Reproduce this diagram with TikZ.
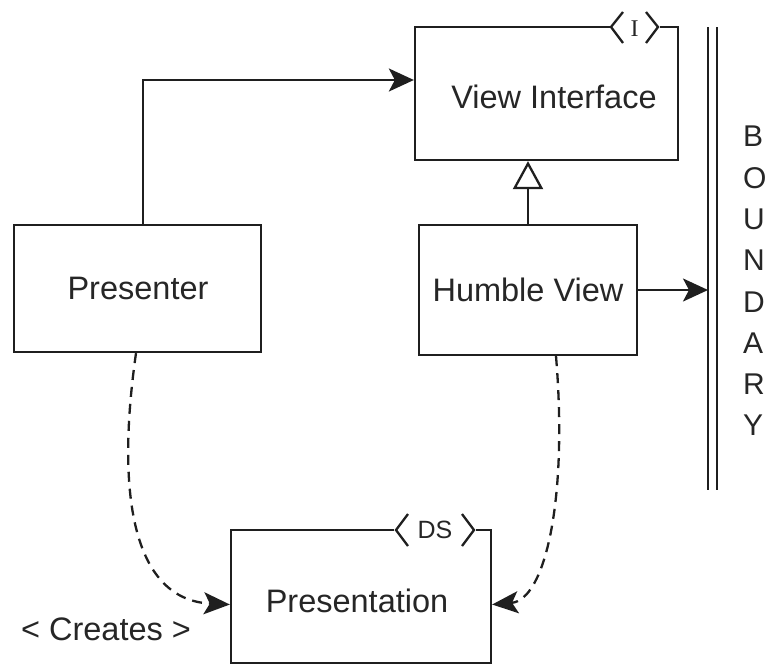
\documentclass[tikz,border=0pt]{standalone}
\usepackage{fontspec}
\setmainfont{Liberation Sans}
\newfontfamily\serifI{Liberation Serif}
\usetikzlibrary{arrows.meta}
\begin{document}
\begin{tikzpicture}[x=1pt,y=-1pt,
  box/.style={draw=black!88,line width=2.3pt,inner sep=0pt,minimum width=#1},
  lbl/.style={inner sep=0pt,font=\fontsize{32.5}{38}\selectfont,text=black!85},
  arr/.style={line width=2.3pt,draw=black!88,-{Stealth[length=25pt,width=23pt,inset=6pt]}},
  gen/.style={line width=2.3pt,draw=black!88,-{Triangle[open,length=28pt,width=30pt,fill=white]}},
  dsh/.style={line width=2.3pt,draw=black!88,dash pattern=on 10pt off 7pt,-{Stealth[length=26pt,width=22pt,inset=6pt]}},
  chev/.style={line width=2.3pt,draw=black!88,line join=miter}]
\useasboundingbox (0,0) rectangle (767,665);
% boxes
\node[box=263pt,minimum height=133pt] (vi) at (546.5,93.5) {};
\node[box=247pt,minimum height=127pt] (pr) at (137.5,288.5) {};
\node[box=218pt,minimum height=130pt] (hv) at (528,290) {};
\node[box=260pt,minimum height=133pt] (pn) at (361,596.5) {};
% labels
\node[lbl] (vit) at (554,97) {View Interface};
\node[lbl] (prt) at (138,288) {Presenter};
\node[lbl] (hvt) at (528,290) {Humble View};
\node[lbl] (pnt) at (357,601) {Presentation};
\node[lbl] (cr) at (106,629) {< Creates >};
% tags
\fill[white] (610,20) rectangle (660,34);
\draw[chev] (623,12) -- (611,27) -- (623,43);
\draw[chev] (646,12) -- (658,27) -- (646,43);
\node[inner sep=0pt,font=\serifI\fontsize{24}{26}\selectfont,text=black!85] (it) at (634.5,29) {I};
\fill[white] (394,523) rectangle (476,537);
\draw[chev] (408,514) -- (396,530) -- (408,546);
\draw[chev] (462,514) -- (474,530) -- (462,546);
\node[inner sep=0pt,font=\fontsize{25}{28}\selectfont,text=black!85] (ds) at (435,530) {DS};
% boundary
\coordinate (b1t) at (708,27); \coordinate (b1b) at (708,490);
\coordinate (b2t) at (717,27); \coordinate (b2b) at (717,490);
\draw[line width=2.3pt,draw=black!88] (b1t) -- (b1b);
\draw[line width=2.3pt,draw=black!88] (b2t) -- (b2b);
\node[lbl,anchor=north west,align=left,font=\fontsize{30}{41.3}\selectfont] (bd) at (743,126) {B\\O\\U\\N\\D\\A\\R\\Y};
% connectors
\draw[arr] ([xshift=5.5pt]pr.north) |- ([yshift=13.5pt]vi.west);
\draw[gen] (hv.north) -- (hv.north |- vi.south);
\draw[arr] (hv.east) -- (hv.east -| b1t);
\draw[dsh] ([xshift=-1.5pt]pr.south) .. controls (115,500) and (135,600) .. ([yshift=-8pt]pn.west);
\draw[dsh] ([xshift=28pt]hv.south) .. controls (568,500) and (545,600) .. ([yshift=-8pt]pn.east);
\end{tikzpicture}
\end{document}
